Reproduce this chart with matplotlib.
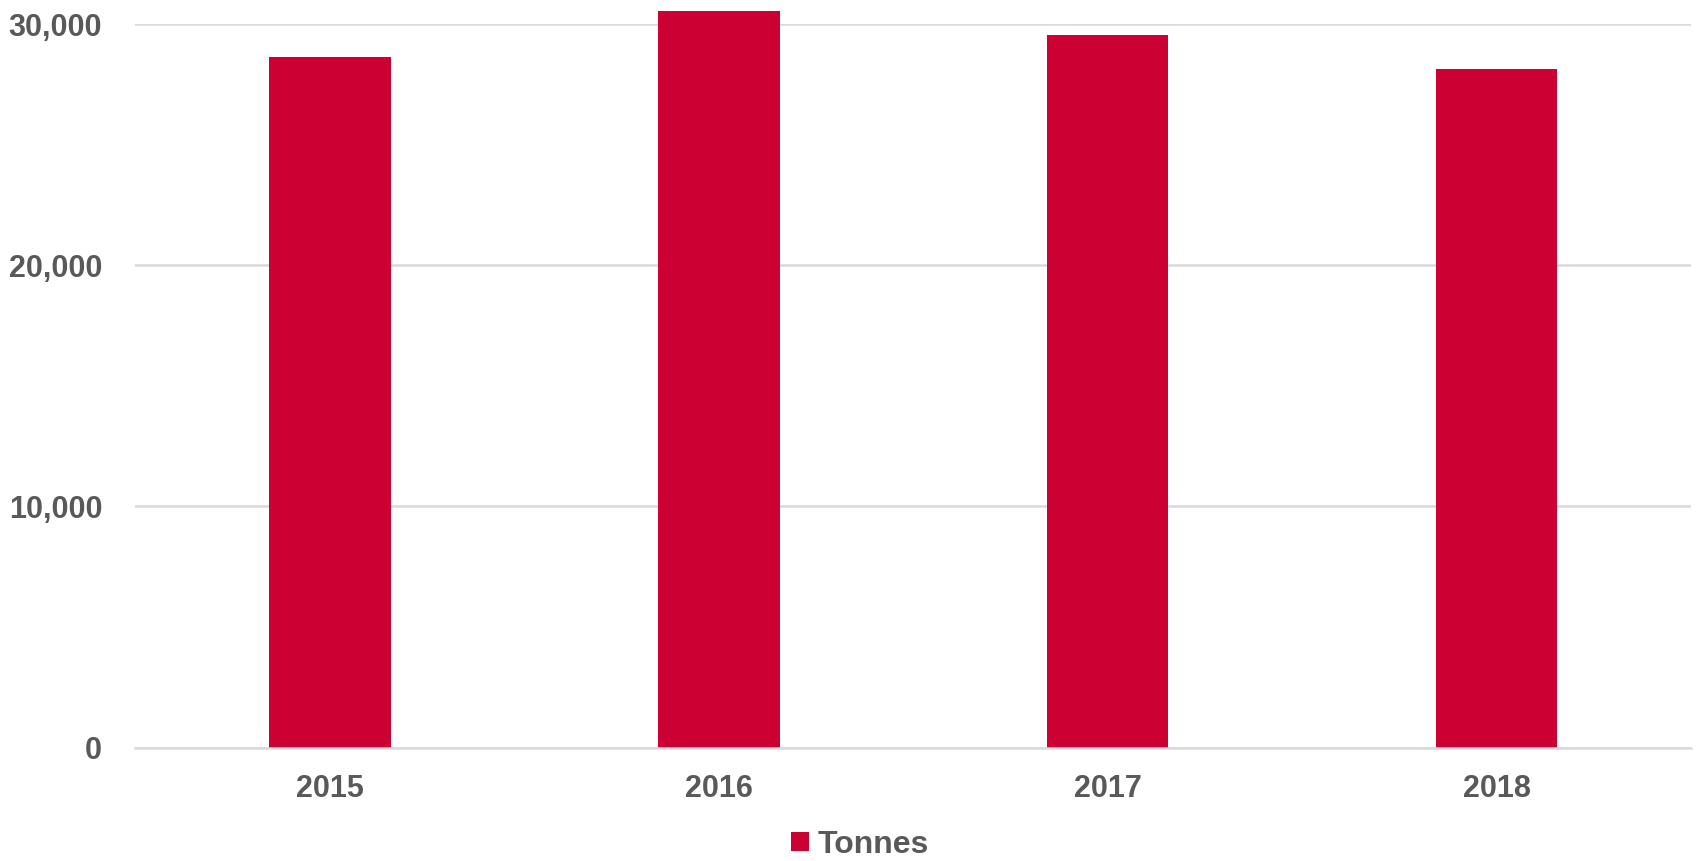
import matplotlib
matplotlib.use('Agg')
import matplotlib.pyplot as plt
from matplotlib.ticker import FuncFormatter

# data
years = ['2015', '2016', '2017', '2018']
tonnes = [28630, 30550, 29540, 28130]

red = '#CC0033'
grey = '#595959'

plt.rcParams['font.family'] = ['Liberation Sans', 'DejaVu Sans']
plt.rcParams['font.weight'] = 'bold'

fig = plt.figure(figsize=(17, 8.61), dpi=100)
ax = fig.add_axes([0.0797, 0.1318, 0.9150, 0.8403])

x = range(len(years))
ax.bar(x, tonnes, width=0.3125, color=red, label='Tonnes', zorder=3, clip_on=False)

ax.set_xlim(-0.5, len(years) - 0.5)
ax.set_ylim(0, 30000)
ax.set_yticks([0, 10000, 20000, 30000])
ax.yaxis.set_major_formatter(FuncFormatter(lambda v, p: f'{int(v):,}'))
ax.set_xticks(list(x))
ax.set_xticklabels(years)

ax.grid(axis='y', color='#D9D9D9', linewidth=1.8, zorder=0)
for s in ['top', 'right', 'left']:
    ax.spines[s].set_visible(False)
ax.spines['bottom'].set_color('#D9D9D9')
ax.spines['bottom'].set_linewidth(1.8)
ax.spines['bottom'].set_zorder(4)

ax.tick_params(axis='both', length=0, labelsize=22, labelcolor=grey)
ax.tick_params(axis='y', pad=24)
ax.tick_params(axis='x', pad=19)

fig.legend(loc='lower center', bbox_to_anchor=(0.506, -0.032), frameon=False,
           fontsize=23, labelcolor=grey, handlelength=0.55, handleheight=0.55,
           handletextpad=0.3)

fig.savefig('out.png', dpi=100)
